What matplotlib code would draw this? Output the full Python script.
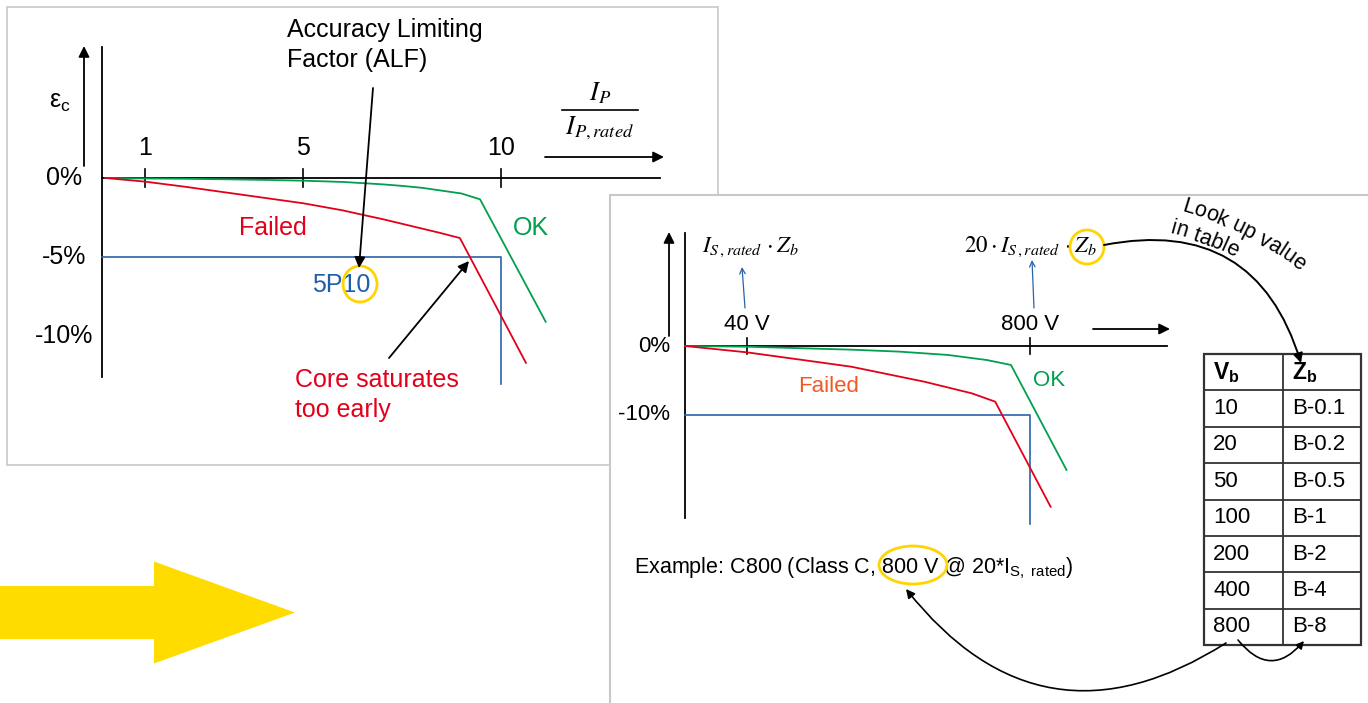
import numpy as np
import matplotlib
matplotlib.use("Agg")
import matplotlib.pyplot as plt
from matplotlib.transforms import Affine2D, blended_transform_factory
from matplotlib.patches import Rectangle, Ellipse, FancyArrow

plt.rcParams["font.family"] = ["Liberation Sans", "DejaVu Sans"]
plt.rcParams["mathtext.fontset"] = "custom"
plt.rcParams["mathtext.rm"] = "Liberation Sans"
plt.rcParams["mathtext.it"] = "Liberation Sans:italic"
plt.rcParams["mathtext.bf"] = "Liberation Sans:bold"

# ---------------- data ----------------
# Left chart: IEC protection CT, composite error vs. I_P / I_P,rated
ALF_TICKS = [1, 5, 10]
ALF_TICK_LABELS = ["1", "5", "10"]
ERR_TICKS_L = [0, -5, -10]
ERR_TICK_LABELS_L = ["0%", "-5%", "-10%"]

OK_L_X = [0, 1, 2, 3, 4, 5, 6, 7, 7.5, 8, 8.5, 9, 9.47, 11.13]
OK_L_Y = [0, -0.03, -0.05, -0.08, -0.12, -0.17, -0.25, -0.4, -0.5, -0.62, -0.8, -0.98, -1.35, -9.1]
FAIL_L_X = [0, 1, 2, 3, 4, 5, 6, 6.52, 7, 7.8, 8.5, 8.96, 10.63]
FAIL_L_Y = [0, -0.23, -0.55, -0.9, -1.25, -1.6, -2.05, -2.34, -2.6, -3.08, -3.5, -3.8, -11.7]
LIMIT_L_ERR = -5      # 5P  -> 5 % error limit
LIMIT_L_ALF = 10      # P10 -> accuracy limit factor 10

# Right chart: IEEE C-class CT, error vs. secondary voltage (multiples of I_S,rated * Z_b)
V_TICKS = [1, 20]
V_TICK_LABELS = ["40 V", "800 V"]
ERR_TICKS_R = [0, -10]
ERR_TICK_LABELS_R = ["0%", "-10%"]

OK_R_X = [-3.16, 1, 4.75, 8, 11.28, 14.5, 17.1, 18.73, 22.46]
OK_R_Y = [0, -0.1, -0.33, -0.53, -0.82, -1.3, -2.03, -2.75, -17.97]
FAIL_R_X = [-3.16, 1, 4.75, 8, 12.9, 16.1, 17.67, 21.39]
FAIL_R_Y = [0, -0.92, -2.03, -3.0, -5.17, -6.86, -8.07, -23.3]
LIMIT_R_ERR = -10
LIMIT_R_MULT = 20

# Burden table
TABLE_V = ["10", "20", "50", "100", "200", "400", "800"]
TABLE_Z = ["B-0.1", "B-0.2", "B-0.5", "B-1", "B-2", "B-4", "B-8"]

# ---------------- colours ----------------
RED = "#E2001A"
ORANGE = "#F05A22"
GREEN = "#00A04E"
BLUE = "#2B63A8"
BLUE_TXT = "#1F5FAA"
YELLOW = "#FFD400"
ARROW_YELLOW = "#FFDC00"
FRAME = "#C8C8C8"

FS_L = 18     # left panel text size
FS_R = 16     # right panel text size

W, H = 1368, 703
fig = plt.figure(figsize=(W / 100, H / 100), dpi=100)
ax = fig.add_axes([0, 0, 1, 1])
ax.set_xlim(0, W)
ax.set_ylim(H, 0)
ax.axis("off")

arrow_k = dict(arrowstyle="-|>", color="k", lw=1.3, mutation_scale=16, shrinkA=0, shrinkB=0)

# =============== left panel ===============
ax.add_patch(Rectangle((7, 7), 711, 458, fc="white", ec=FRAME, lw=1.2, zorder=0.5))

trL = Affine2D().scale(39.55, -15.8).translate(105.5, 178) + ax.transData
yL = blended_transform_factory(ax.transData, trL)   # x in canvas px, y in % error
xL = blended_transform_factory(trL, ax.transData)   # x in I/I_rated, y in canvas px

LX0, LX1 = -0.09, 14.02
ax.plot([LX0, LX1], [0, 0], transform=trL, color="k", lw=1.3, zorder=1)
ax.plot([LX0, LX0], [8.3, -12.6], transform=trL, color="k", lw=1.3, zorder=1)
for t, lab in zip(ALF_TICKS, ALF_TICK_LABELS):
    ax.plot([t, t], [169, 187], transform=xL, color="k", lw=1.2, zorder=1)
    ax.text(t, 148, lab, transform=xL, ha="center", va="center", fontsize=FS_L, zorder=1)
for v, lab in zip(ERR_TICKS_L, ERR_TICK_LABELS_L):
    ax.text(64, v, lab, transform=yL, ha="center", va="center", fontsize=FS_L, zorder=1)

ax.plot([LX0, LIMIT_L_ALF, LIMIT_L_ALF], [LIMIT_L_ERR, LIMIT_L_ERR, -13.05],
        transform=trL, color=BLUE, lw=1.2, zorder=1.2)
ax.plot(OK_L_X, OK_L_Y, transform=trL, color=GREEN, lw=1.3, zorder=1.3)
ax.plot(FAIL_L_X, FAIL_L_Y, transform=trL, color=RED, lw=1.3, zorder=1.3)

# axis direction arrows
ax.annotate("", xy=(84, 46), xytext=(84, 166), arrowprops=arrow_k, zorder=1)
ax.annotate("", xy=(664, 157), xytext=(545, 157), arrowprops=arrow_k, zorder=1)
ax.text(60, 102, r"ε$_\mathrm{c}$", ha="center", va="center", fontsize=FS_L, zorder=1)

# x-axis quantity as a fraction
ax.text(600, 93, r"$I_P$", math_fontfamily="stix", ha="center", va="center", fontsize=19, zorder=1)
ax.plot([562, 638], [110, 110], color="k", lw=1.2, zorder=1)
ax.text(600, 128, r"$I_{P,rated}$", math_fontfamily="stix", ha="center", va="center", fontsize=19, zorder=1)

ax.text(287, 30, "Accuracy Limiting", ha="left", va="center", fontsize=FS_L, zorder=1)
ax.text(287, 60, "Factor (ALF)", ha="left", va="center", fontsize=FS_L, zorder=1)
ax.annotate("", xy=(359, 268), xytext=(373, 88), arrowprops=arrow_k, zorder=1.5)

ax.text(273, 228, "Failed", color=RED, ha="center", va="center", fontsize=FS_L, zorder=1)
ax.text(531, 228, "OK", color=GREEN, ha="center", va="center", fontsize=FS_L, zorder=1)
ax.text(341, 285, "5P10", color=BLUE_TXT, ha="center", va="center", fontsize=FS_L, zorder=1)
ax.add_patch(Ellipse((360, 284), 34, 36, fc="none", ec=YELLOW, lw=2, zorder=1.4))

ax.text(295, 380, "Core saturates", color=RED, ha="left", va="center", fontsize=FS_L, zorder=1)
ax.text(295, 410, "too early", color=RED, ha="left", va="center", fontsize=FS_L, zorder=1)
ax.annotate("", xy=(469, 261), xytext=(389, 358), arrowprops=arrow_k, zorder=1.5)

# big yellow transition arrow
ax.add_patch(FancyArrow(-5, 612.5, 300, 0, width=53, head_width=102, head_length=141,
                        length_includes_head=True, fc=ARROW_YELLOW, ec="none", zorder=1))

# =============== right panel ===============
ZR = 5
ax.add_patch(Rectangle((610, 195), 900, 700, fc="white", ec=FRAME, lw=1.5, zorder=ZR))

trR = Affine2D().scale(14.89, -6.9).translate(732.1, 346) + ax.transData
yR = blended_transform_factory(ax.transData, trR)
xR = blended_transform_factory(trR, ax.transData)

RX0, RX1 = -3.16, 29.2
ax.plot([RX0, RX1], [0, 0], transform=trR, color="k", lw=1.3, zorder=ZR + 1)
ax.plot([RX0, RX0], [16.4, -24.9], transform=trR, color="k", lw=1.3, zorder=ZR + 1)
for t, lab in zip(V_TICKS, V_TICK_LABELS):
    ax.plot([t, t], [338, 354], transform=xR, color="k", lw=1.2, zorder=ZR + 1)
    ax.text(t, 325, lab, transform=xR, ha="center", va="center", fontsize=FS_R, zorder=ZR + 1)
for v, lab in zip(ERR_TICKS_R, ERR_TICK_LABELS_R):
    ax.text(670, v, lab, transform=yR, ha="right", va="center", fontsize=FS_R, zorder=ZR + 1)

ax.plot([RX0, LIMIT_R_MULT, LIMIT_R_MULT], [LIMIT_R_ERR, LIMIT_R_ERR, -25.8],
        transform=trR, color=BLUE, lw=1.2, zorder=ZR + 1.2)
ax.plot(OK_R_X, OK_R_Y, transform=trR, color=GREEN, lw=1.3, zorder=ZR + 1.3)
ax.plot(FAIL_R_X, FAIL_R_Y, transform=trR, color=RED, lw=1.3, zorder=ZR + 1.3)

ax.annotate("", xy=(669, 232), xytext=(669, 336), arrowprops=arrow_k, zorder=ZR + 1)
ax.annotate("", xy=(1170, 329), xytext=(1093, 329), arrowprops=arrow_k, zorder=ZR + 1)

ax.text(829, 387, "Failed", color=ORANGE, ha="center", va="center", fontsize=FS_R, zorder=ZR + 1)
ax.text(1049, 381, "OK", color=GREEN, ha="center", va="center", fontsize=FS_R, zorder=ZR + 1)

# voltage expressions
ax.text(702, 247, r"$I_{S\,,rated}\,\cdot Z_b$", math_fontfamily="stix",
        ha="left", va="center", fontsize=16.5, zorder=ZR + 1)
ax.text(964, 247, r"$20\cdot I_{S\,,rated}\,\cdot Z_b$", math_fontfamily="stix",
        ha="left", va="center", fontsize=16.5, zorder=ZR + 1)
ax.add_patch(Ellipse((1087, 247), 34, 34, fc="none", ec=YELLOW, lw=2, zorder=ZR + 1.4))
arrow_b = dict(arrowstyle="->", color=BLUE, lw=0.9, mutation_scale=10, shrinkA=0, shrinkB=0)
ax.annotate("", xy=(742, 267), xytext=(745, 308), arrowprops=arrow_b, zorder=ZR + 1)
ax.annotate("", xy=(1032, 260), xytext=(1034, 308), arrowprops=arrow_b, zorder=ZR + 1)

# example line
ax.text(634, 568, r"Example: C800 (Class C, 800 V @ 20*I$_{\mathrm{S,\ rated}}$)",
        ha="left", va="center", fontsize=15.5, zorder=ZR + 1)
ax.add_patch(Ellipse((913, 565), 68, 38, fc="none", ec=YELLOW, lw=2, zorder=ZR + 1.4))

# burden table
TX0, TX1, TX2, TTOP, ROW = 1204, 1283, 1361, 354, 36.4
n_rows = len(TABLE_V) + 1
tbot = TTOP + n_rows * ROW
ax.add_patch(Rectangle((TX0, TTOP), TX2 - TX0, tbot - TTOP, fc="white", ec="#333333",
                       lw=1.6, zorder=ZR + 2))
ax.plot([TX1, TX1], [TTOP, tbot], color="#333333", lw=1.3, zorder=ZR + 2)
for i in range(1, n_rows):
    yy = TTOP + i * ROW
    ax.plot([TX0, TX2], [yy, yy], color="#333333", lw=1.3, zorder=ZR + 2)
ax.text(TX0 + 9, TTOP + ROW / 2, r"$\mathbf{V_b}$", ha="left", va="center", fontsize=16.5, zorder=ZR + 3)
ax.text(TX1 + 9, TTOP + ROW / 2, r"$\mathbf{Z_b}$", ha="left", va="center", fontsize=16.5, zorder=ZR + 3)
for i, (v, z) in enumerate(zip(TABLE_V, TABLE_Z)):
    yy = TTOP + (i + 1.5) * ROW
    ax.text(TX0 + 9, yy, v, ha="left", va="center", fontsize=16, zorder=ZR + 3)
    ax.text(TX1 + 9, yy, z, ha="left", va="center", fontsize=16, zorder=ZR + 3)

# curved arrows linking formula, table and example
ax.annotate("", xy=(1301, 363), xytext=(1104, 245), zorder=ZR + 4,
            arrowprops=dict(arrowstyle="-|>", color="k", lw=1.4, mutation_scale=14,
                            shrinkA=0, shrinkB=0, connectionstyle="arc3,rad=-0.45"))
ax.annotate("", xy=(906, 589), xytext=(1226, 643), zorder=ZR + 4,
            arrowprops=dict(arrowstyle="-|>", color="k", lw=1.2, mutation_scale=13,
                            shrinkA=0, shrinkB=0, connectionstyle="arc3,rad=-0.45"))
ax.annotate("", xy=(1304, 641), xytext=(1238, 640), zorder=ZR + 4,
            arrowprops=dict(arrowstyle="-|>", color="k", lw=1.2, mutation_scale=11,
                            shrinkA=0, shrinkB=0, connectionstyle="arc3,rad=0.6"))

# text laid along an arc
renderer = fig.canvas.get_renderer()


def char_width(ch, size):
    t1 = ax.text(0, 0, "a" + ch + "a", fontsize=size)
    t2 = ax.text(0, 0, "aa", fontsize=size)
    w = t1.get_window_extent(renderer).width - t2.get_window_extent(renderer).width
    t1.remove()
    t2.remove()
    return w


def arc_text(s, start, theta0_deg, radius, size):
    th0 = np.radians(theta0_deg)
    px, py = start[0], H - start[1]
    cx, cy = px + radius * np.sin(th0), py - radius * np.cos(th0)
    pos = 0.0
    for ch in s:
        w = char_width(ch, size)
        th = th0 - (pos + w / 2) / radius
        x = cx - radius * np.sin(th)
        y = cy + radius * np.cos(th)
        ax.text(x, H - y, ch, fontsize=size, ha="center", va="baseline",
                rotation=np.degrees(th), rotation_mode="anchor", zorder=ZR + 3)
        pos += w


arc_text("Look up value", (1181, 211), -16, 360, 15.5)
arc_text("in table", (1170, 233), -15, 340, 15.5)

fig.savefig("out.png", dpi=100)
